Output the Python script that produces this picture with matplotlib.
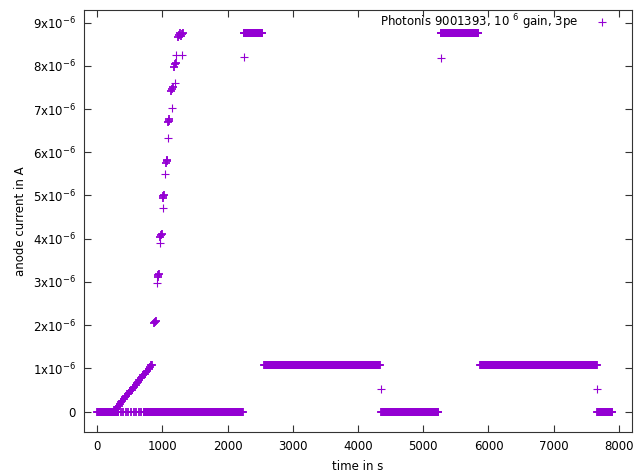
import numpy as np
import matplotlib.pyplot as plt

# constant-level segments of the run: start time, end time, sampling step (s), current (A)
seg_start = [0, 320, 720, 2245, 2565, 4360, 5265, 5870, 7670]
seg_end = [320, 720, 2235, 2535, 4340, 5235, 5845, 7660, 7905]
seg_step = [10, 40, 10, 10, 10, 10, 10, 10, 10]
seg_level = [0, 0, 0, 8.75e-6, 1.08e-6, 0, 8.75e-6, 1.08e-6, 0]

# slow ramp at the start (s, A)
ramp_t = [250, 270, 290, 310, 330, 350, 370, 390, 410, 430, 450, 470, 490, 510, 530,
          550, 570, 590, 610, 630, 650, 670, 690, 710, 730, 750, 770, 790, 810, 830, 845]
ramp_i = [0.00, 0.03, 0.07, 0.11, 0.14, 0.18, 0.22, 0.25, 0.29, 0.33, 0.36, 0.40, 0.44, 0.47, 0.51,
          0.55, 0.58, 0.62, 0.66, 0.69, 0.73, 0.77, 0.80, 0.84, 0.88, 0.91, 0.95, 0.99, 1.03, 1.07, 1.08]
ramp_i = [v * 1e-6 for v in ramp_i]

# gain steps: clusters of points (s, A)
step_t = [880, 888, 896,
          928, 936, 944,
          972, 980, 988,
          1004, 1012, 1020,
          1062, 1070, 1078,
          1094, 1102, 1110,
          1140, 1150, 1160,
          1180, 1192, 1204,
          1240, 1255, 1270, 1285, 1300, 1315]
step_i = [2.05, 2.08, 2.10,
          3.12, 3.15, 3.18,
          4.04, 4.08, 4.12,
          4.94, 4.98, 5.01,
          5.75, 5.79, 5.82,
          6.69, 6.73, 6.76,
          7.42, 7.46, 7.50,
          7.98, 8.03, 8.07,
          8.66, 8.72, 8.75, 8.70, 8.74, 8.76]
step_i = [v * 1e-6 for v in step_i]

# single transition points
trans_t = [915, 965, 1005, 1040, 1095, 1145, 1190, 1215, 1300, 2245, 4345, 5265, 7663]
trans_i = [2.97, 3.89, 4.70, 5.50, 6.34, 7.03, 7.60, 8.25, 8.25, 8.20, 0.52, 8.18, 0.52]
trans_i = [v * 1e-6 for v in trans_i]

yticks = [0, 1e-6, 2e-6, 3e-6, 4e-6, 5e-6, 6e-6, 7e-6, 8e-6, 9e-6]
ytick_labels = ["0"] + [f"{k}x10$^{{-6}}$" for k in range(1, 10)]
xticks = [0, 1000, 2000, 3000, 4000, 5000, 6000, 7000, 8000]

t_all = []
i_all = []
for s, e, d, lv in zip(seg_start, seg_end, seg_step, seg_level):
    tt = np.arange(s, e + 1, d)
    t_all.extend(tt)
    i_all.extend([lv] * len(tt))
t_all += ramp_t + step_t
i_all += ramp_i + step_i

plt.rcParams['font.family'] = 'DejaVu Sans'
plt.rcParams['font.size'] = 8.5

fig = plt.figure(figsize=(6.38, 4.72), dpi=100)
ax = fig.add_axes([84 / 638, 1 - 432 / 472, 548 / 638, 422 / 472])

col = '#9400d3'
ax.plot(t_all, i_all, linestyle='none', marker='+', markersize=6,
        markeredgewidth=1.3, color=col)
ax.plot(trans_t, trans_i, linestyle='none', marker='+', markersize=6,
        markeredgewidth=0.8, color=col,
        label="Photonis 9001393, 10 $^{6}$ gain, 3pe")

ax.set_xlim(-200, 8200)
ax.set_ylim(-0.47e-6, 9.29e-6)
ax.set_xticks(xticks)
ax.set_yticks(yticks)
ax.set_yticklabels(ytick_labels)
ax.tick_params(direction='in', length=5, top=True, right=True, color='#333333', pad=6)
for sp in ax.spines.values():
    sp.set_color('#333333')

ax.set_xlabel("time in s")
ax.set_ylabel("anode current in A")
ax.xaxis.set_label_coords(0.5, -0.066)

ax.legend(loc='upper right', bbox_to_anchor=(0.966, 1.0), frameon=False, markerfirst=False,
          handlelength=1.5, borderaxespad=0, handletextpad=1.3, borderpad=0.2)

fig.savefig("out.png", dpi=100)
